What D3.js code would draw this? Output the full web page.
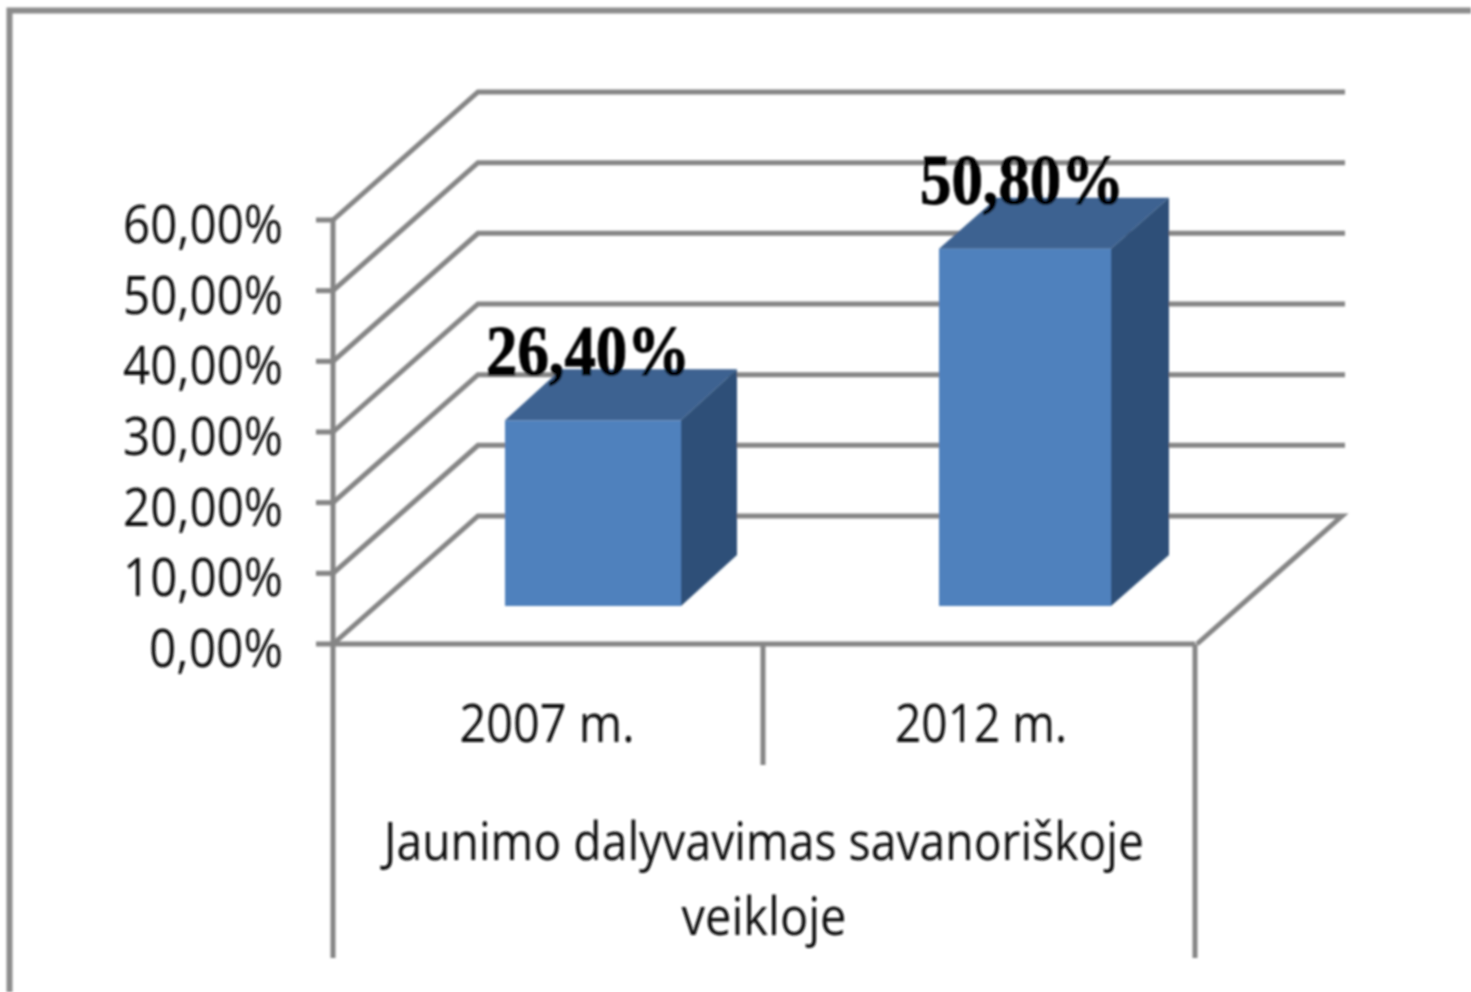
<!DOCTYPE html>
<html><head><meta charset="utf-8">
<script src="https://cdnjs.cloudflare.com/ajax/libs/d3/7.8.5/d3.min.js"></script>
<style>html,body{margin:0;padding:0;background:#fff}svg{display:block}</style>
</head><body><svg id="c" width="1471" height="992"></svg>
<script>
const categories = ["2007 m.", "2012 m."];
const values = [26.4, 50.8];
const valueLabels = ["26,40%", "50,80%"];
const ticks = [0, 10, 20, 30, 40, 50, 60];
const groupLabel = ["Jaunimo dalyvavimas savanoriškoje", "veikloje"];

const svg = d3.select("#c");
const defs = svg.append("defs");
defs.append("filter").attr("id", "soft").attr("x", "-5%").attr("y", "-5%").attr("width", "110%").attr("height", "110%")
  .append("feGaussianBlur").attr("stdDeviation", 0.9);
const root = svg.append("g").attr("filter", "url(#soft)");

const grid = "#858585";
const dx = 145, dy = -128;             // depth offset of the back wall
const y = d3.scaleLinear().domain([0, 60]).range([644, 220]);
const x = d3.scaleBand().domain(categories).range([333, 1195]);
const barW = [176, 172];
const barFrontOffset = [172, 175];
const bdx = [56, 58], bdy = -51, barBase = 606;
const h = d3.scaleLinear().domain([0, 60]).range([0, 422]);
const font = "'Open Sans'";

// frame
root.append("path").attr("d", "M1471 10.5H9.5V992").attr("fill", "none").attr("stroke", "#8c8c8c").attr("stroke-width", 6);

// gridlines: side wall + back wall
const gridG = root.append("g").attr("fill", "none").attr("stroke", grid).attr("stroke-width", 5);
ticks.forEach(t => {
  const yy = y(t);
  if (t > 0) gridG.append("path").attr("d", `M333 ${yy}L${333 + dx} ${yy + dy}H1345`);
  else gridG.append("path").attr("d", `M333 ${yy}L${333 + dx} ${yy + dy}H1342L1197 ${yy}`);
  root.append("line").attr("x1", 316).attr("x2", 333).attr("y1", yy).attr("y2", yy).attr("stroke", grid).attr("stroke-width", 5);
  root.append("text").attr("x", 283).attr("y", yy + 23).attr("text-anchor", "end")
    .attr("font-family", font).attr("font-size", 53).attr("fill", "#111")
    .attr("textLength", t === 0 ? 134 : 160).attr("lengthAdjust", "spacingAndGlyphs")
    .text(d3.format(".2f")(t).replace(".", ",") + "%");
});

// axis and multi-level category dividers
const ax = root.append("g").attr("stroke", grid).attr("stroke-width", 5).attr("fill", "none");
ax.append("path").attr("d", `M333 ${y(60)}V958M333 ${y(0)}H1195M1195 ${y(0)}V958M763 ${y(0)}V765`);

// bars
categories.forEach((c, i) => {
  const left = x(c) + barFrontOffset[i];
  const w = barW[i];
  const top = barBase - h(values[i]);
  const g = root.append("g");
  g.append("rect").attr("x", left).attr("y", top).attr("width", w).attr("height", barBase - top).attr("fill", "#4f81bd");
  g.append("path").attr("fill", "#3c6291").attr("d", `M${left} ${top}l${bdx[i]} ${bdy}h${w}l${-bdx[i]} ${-bdy}z`);
  g.append("path").attr("fill", "#2f5078").attr("d", `M${left + w} ${top}l${bdx[i]} ${bdy}V${barBase + bdy}l${-bdx[i]} ${-bdy}z`);
  root.append("text").attr("x", left + 83).attr("y", top - 45).attr("text-anchor", "middle")
    .attr("font-family", "'Liberation Serif'").attr("font-weight", "bold").attr("font-size", 72).attr("fill", "#000")
    .attr("stroke", "#000").attr("stroke-width", 1)
    .attr("textLength", 204).attr("lengthAdjust", "spacingAndGlyphs")
    .text(valueLabels[i]);
});

// category labels
const labelX = [547, 981];
categories.forEach((c, i) => {
  root.append("text").attr("x", labelX[i]).attr("y", 742).attr("text-anchor", "middle")
    .attr("font-family", font).attr("font-size", 53).attr("fill", "#111").attr("textLength", i ? 172 : 175).attr("lengthAdjust", "spacingAndGlyphs").text(c);
});
groupLabel.forEach((l, i) => {
  root.append("text").attr("x", 764).attr("y", i ? 935 : 860).attr("text-anchor", "middle")
    .attr("font-family", font).attr("font-size", 53).attr("fill", "#111")
    .attr("textLength", i ? 165 : 760).attr("lengthAdjust", "spacingAndGlyphs").text(l);
});
</script></body></html>
